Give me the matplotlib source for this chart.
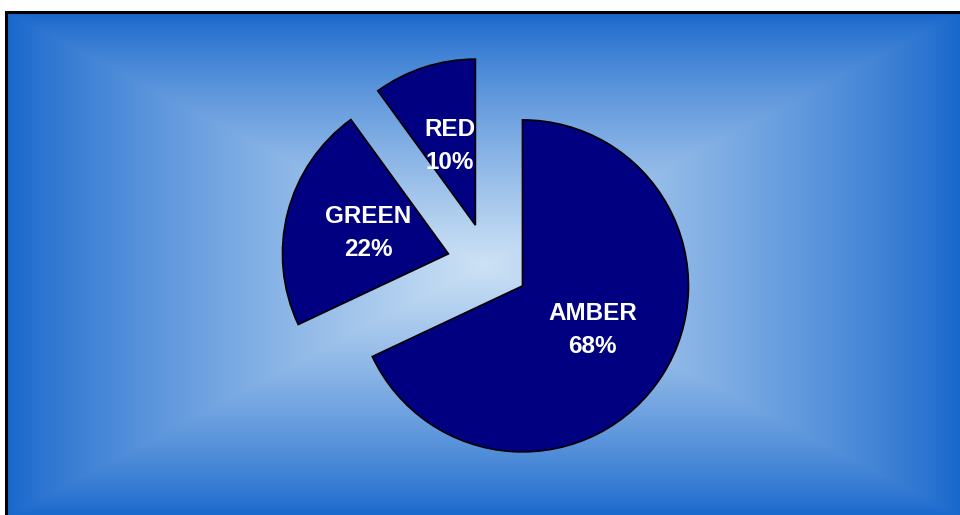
import numpy as np
import matplotlib.pyplot as plt
from matplotlib.patches import Rectangle

categories = ["AMBER", "GREEN", "RED"]
shares = [68, 22, 10]

W, H = 960, 515
R = 166.0  # pie radius in pixels

fig = plt.figure(figsize=(9.6, 5.15), dpi=100)
ax = fig.add_axes([0, 0, 1, 1])

# rectangular "from centre" gradient background
x0, x1, y0, y1 = 6, 962, -2, 503
cx, cy = (x0 + x1) / 2, (y0 + y1) / 2
xs = np.linspace(x0, x1, 900)
ys = np.linspace(y0, y1, 500)
X, Y = np.meshgrid(xs, ys)
t = np.maximum(np.abs(X - cx) / ((x1 - x0) / 2), np.abs(Y - cy) / ((y1 - y0) / 2))
f = np.clip(1 - t, 0, 1) ** 0.82
edge = np.array([22, 102, 204]) / 255.0
mid = np.array([205, 226, 245]) / 255.0
img = edge + (mid - edge) * f[..., None]
ax.imshow(img, extent=(x0, x1, y0, y1), origin="lower",
          interpolation="bilinear", aspect="auto", zorder=0)

labels = ["%s\n%d%%" % (c, v) for c, v in zip(categories, shares)]
wedges, texts = ax.pie(shares, labels=labels, startangle=90, counterclock=False,
                       explode=[0.246 * R] * len(shares), radius=R, center=(488, 251),
                       labeldistance=0.5, colors=["#000080"] * len(shares),
                       wedgeprops=dict(edgecolor="black", linewidth=1.2, zorder=2),
                       textprops=dict(color="white", fontsize=17.5, fontweight="bold",
                                      ha="center", va="center", linespacing=1.55,
                                      family=["Liberation Sans", "DejaVu Sans"]))

ax.add_patch(Rectangle((x0, y0), x1 - x0, y1 - y0, fill=False,
                       edgecolor="black", linewidth=2.2, zorder=5, clip_on=False))

ax.set_xlim(0, W)
ax.set_ylim(0, H)
ax.set_aspect("auto")
ax.axis("off")

fig.savefig("out.png", dpi=100, facecolor="white")
